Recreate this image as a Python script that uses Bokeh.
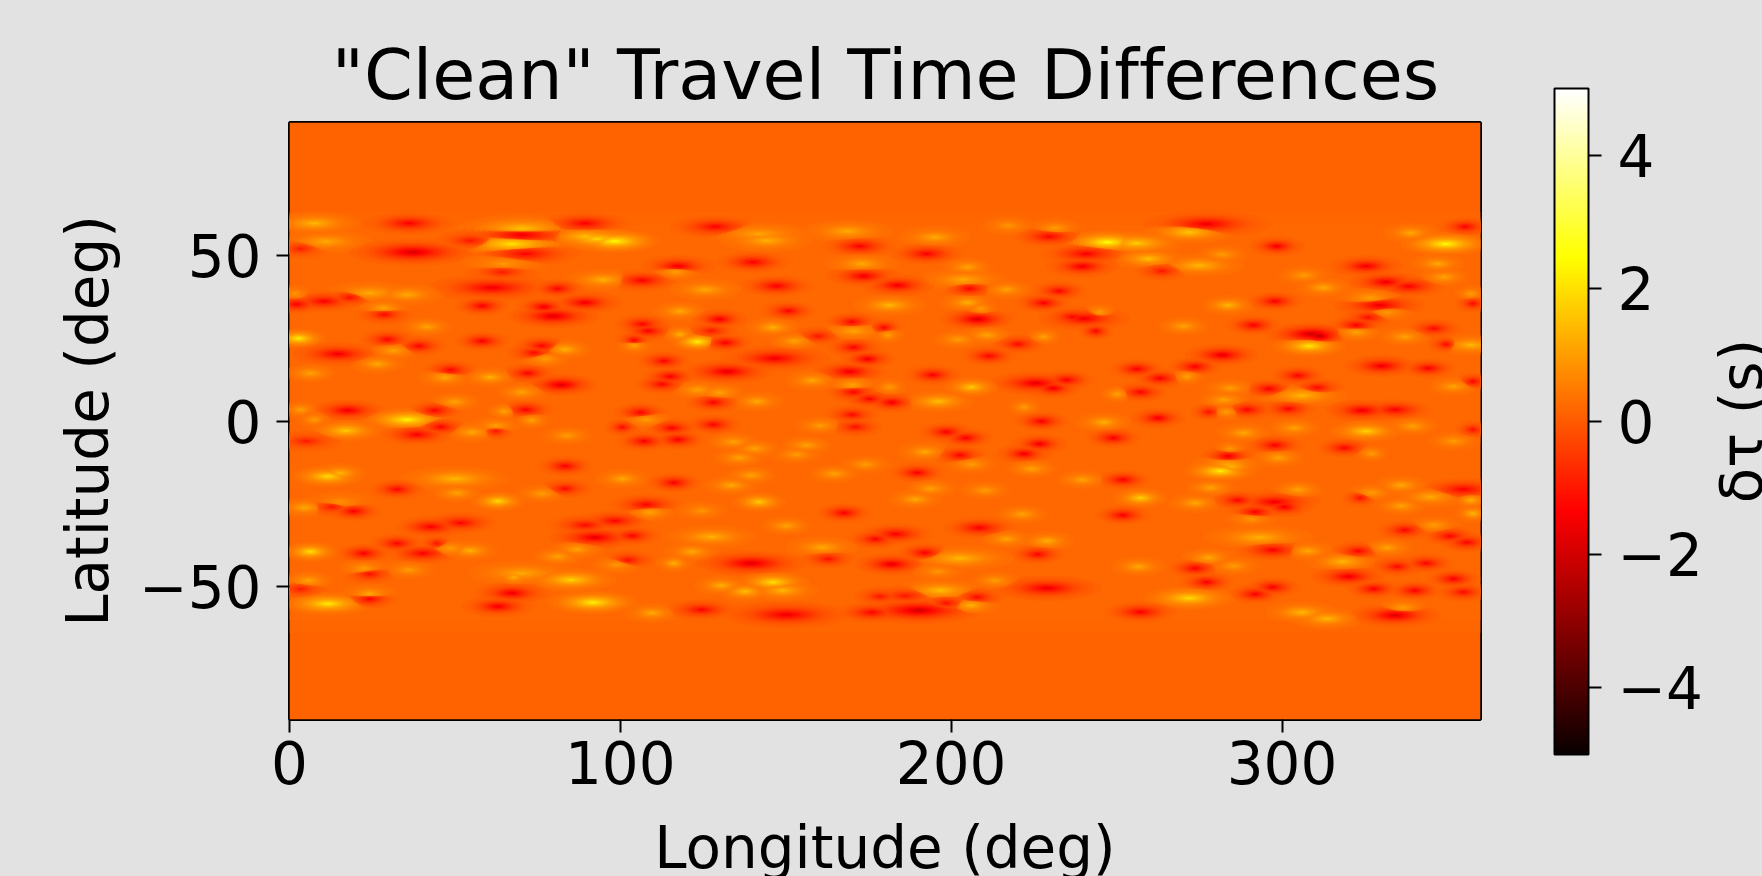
import numpy as np
from bokeh.plotting import figure
from bokeh.models import ColumnDataSource, LinearColorMapper, ColorBar, FixedTicker
from bokeh.embed import file_html
from bokeh.resources import INLINE

TITLE = '"Clean" Travel Time Differences'
X_LABEL = "Longitude (deg)"
Y_LABEL = "Latitude (deg)"
BAR_LABEL = "δτ (s)"
X_TICKS = [0, 100, 200, 300]
Y_TICKS = [-50, 0, 50]
Y_TICK_TEXT = {-50: "−50", 0: "0", 50: "50"}
BAR_TICKS = [-4, -2, 0, 2, 4]
BAR_TICK_TEXT = {-4: "−4", -2: "−2", 0: "0", 2: "2", 4: "4"}
VALUE_LOW, VALUE_HIGH = -5, 5
LON_RANGE = (0, 360)
LAT_RANGE = (-90, 90)

# quiet background, by latitude band (nested, outermost first)
band_top = [90, 63, 59]
band_bottom = [-90, -64, -60]
band_delta = [0.12, 0.17, 0.22]

# features: centre lon, centre lat, peak delta-tau, lon half-extent
nw_lon = [7.5,36.1,70.2,89.3,128.7,168.7,141.9,144.3,70.2,11,67.2,89.3,98.3,92.9,37.3,54.6,71.4,3.3,172.3,173,117.4,140.1,116.8,64.8,64.2,94.7,106.6,173.5,61.2,81,147.2,125.7,24.2,35.5,1.5,10.4,18.2,2.1,89.3,58.2,76.8,79.7,28.4,28.6,118,150.8,129.9,170,41.5,106.6,108.4,127.5,146.1,170.5,159.8,2.7,118,123.3,104.2,104.2,29.6,58.2,39.1,131.7,152.6,76.2,83.3,73.8,31.4,14.6,170.5,146.7,174.7,77.3,26.6,113.2,48.7,6.3,72,132.3,169.3,115,46.9,60.6,158,82.1,112.6,170,123.3,70.2,130,170.5,175.3,141.3,128.1,49.9,17.6,3.3,43.9,64.8,71.4,106,170,7.5,35.5,73.2,107.8,45.7,17,38.5,62.4,62.4,55.2,100.6,115.6,128.1,160.4,171.1,83.9,107.2,117.4,5.1,134.1,140.7,156.2,153.2,135.9,174.1,83.3]
nw_lat = [59.6,59.6,58.1,59.6,58.6,57.2,56.4,54.4,56.1,54.1,53.4,55.6,54.2,54.9,50.9,54.4,50.4,51.9,52.7,47.4,46.7,47.9,44.9,47.4,44.9,42.6,42.4,43.7,40.2,39.9,40.7,39.6,38.6,38.1,38.4,36.1,37.2,35.2,35.7,34.7,34.4,31.6,34.1,32.1,33.1,33.2,30.7,29.9,28.4,29.2,27.2,27.2,28.2,27.1,25.6,24.9,26.1,23.9,24.4,22.7,24.6,24.1,22.6,23.6,24.1,22.7,21.6,20.6,21.2,20.2,22.2,18.9,18.7,18.7,17.2,18.1,15.4,14.4,14.4,14.9,14.9,13.4,13.1,13.2,12.2,10.9,11.1,10.9,9.4,8.7,8.6,8.7,6.7,5.9,5.6,5.8,3.2,3.4,3.2,2.9,3.4,2.6,1.9,0.4,0.4,0.2,0.4,-1.8,-2.9,-4.1,-1.4,-3.1,-3.4,-1.9,-2.1,-1.1,-1.4,-1.8,-4.4,-6.1,-5.6,-6.1,-6.3,-8.3,-7.3,-10.1,-11.1,-13.1,-13.6]
nw_delta = [1.4,-1.4,1.5,-1.4,-1.3,1.2,1.1,1.3,-1.5,1.2,2,1.5,2.4,1.8,-1.9,-1,-1.3,-0.9,-1.4,1.2,-1.5,-1.4,1,0.9,-0.9,1.3,-1.4,-1.5,-1.5,-1.3,-1.4,1.2,1.2,1.2,0.9,-1.4,-1.1,-1.4,-1.5,-1.4,-1.5,-1.8,1.1,-1.2,1.2,-1.3,-1.5,-1.3,1.1,-1.3,-1.4,-1,1.3,1.1,-1,2.2,1.3,2.3,-1.3,1.1,-1.3,-1.4,-1.3,-1.4,1.1,-1.3,1.3,-1.2,1.1,-1.5,-1.3,-1.5,-1.5,1,1.2,-1.3,-1.3,1.1,-1.3,-1.7,-1.6,-1.4,1.2,1.3,1.2,-1.8,-1.3,1.1,1.1,1.1,1.1,-1.3,-1.3,1.2,-1.3,1.1,-1.6,1.1,-1.3,1.1,-1.4,-1.3,-1.2,1,2.3,1.1,1,-1.3,1.7,-1.4,1,-1,1.2,-1.2,-1.3,-1.3,1,-1.1,1,-1.4,-1.4,-0.9,1.1,1.1,1.1,1,1.1,1,-1.4]
nw_spread = [5,5,7,5,5,5,6,5,7,5,7,5,5,5,7,4,6,3,4,4,4,4,3,5,4,4,4,4,7,3,4,4,5,4,2,4,3,3,4,3,3,5,3,3,3,3,3,3,3,3,3,3,3,4,3,3,2,3,2,2,3,3,3,3,3,3,3,3,3,5,3,6,3,3,3,3,3,3,3,5,4,3,3,3,3,4,3,3,3,3,3,3,3,3,3,3,4,2,3,2,3,3,3,2,5,2,3,3,4,4,3,2,3,2,3,3,3,3,3,3,3,4,3,3,3,3,3,3,3]

sw_lon = [11.6,15.2,49.9,100.6,116.2,139.5,133.5,164.6,83.3,32.5,50.5,76.2,63,141.9,4.5,15.2,19.4,12.8,107.8,109,124.5,167.6,150.2,42.7,51.7,89.3,98.3,92.3,103.6,127.5,177.1,32.5,44.5,6.3,22.4,40.3,54.6,48.7,161,121.6,86.9,81,102.4,116.2,98.9,139.5,162.8,24.2,22.4,36.1,70.2,67.8,85.1,5.7,130.5,146.1,137.7,149,3.3,67.2,24.2,24.2,11.6,91.7,63,109.6,124.5,150.2,178.5,176]
sw_lat = [-16.7,-15.7,-17.4,-17.4,-18.6,-16.4,-19.4,-15.9,-20.4,-20.6,-21.7,-21.9,-24.2,-24.4,-26.1,-24.4,-27.2,-25.9,-25.2,-27.6,-27.1,-27.7,-31.6,-31.9,-30.7,-31.4,-30.1,-35.1,-34.6,-34.9,-35.6,-36.9,-36.9,-39.4,-39.9,-39.9,-39.1,-38.4,-38.1,-39.4,-38.7,-40.9,-41.9,-42.9,-43.4,-42.9,-41.6,-46.2,-44.4,-44.9,-45.9,-47.1,-47.9,-48.1,-49.6,-48.6,-51.4,-51.1,-50.7,-51.9,-52.1,-53.7,-55.1,-54.7,-55.9,-57.9,-56.9,-58.4,-52.9,-57.7]
sw_delta = [1.9,1.4,1.4,1.2,-1.4,1.1,1.2,1.1,-1.2,-1.3,1.1,1,1.9,1.7,1.2,0.8,-1.4,-1,-1.3,1.1,0.9,-1.4,1.1,-1.4,-1.3,-1.2,-1.3,-1.7,-1.3,1.3,-1.3,-1.3,-1,2,-1.4,-1.4,1.3,1,1.2,1.2,1.1,1.1,-1.1,1.3,0.9,-1.8,-1.1,-1.1,1,1,1.2,1.3,1.8,1.1,1.3,2,1.5,1.4,-0.9,-1.6,1.2,-1.3,2.1,2.2,-1.5,1.2,-1.3,-1.6,-1,-1.3]
sw_spread = [4,3,6,3,3,3,3,3,3,3,3,3,3,3,3,4,3,3,4,3,3,3,3,4,4,4,4,5,3,5,3,3,2,3,3,4,3,3,4,3,3,3,3,2,3,6,3,3,3,3,6,2,5,3,3,4,3,4,3,4,3,3,5,5,4,3,4,7,3,4]

ne_lon = [217.3,231.4,195,229.6,277.2,355.4,271.9,338.9,247.2,256,349.5,298.4,192.6,240.8,281.9,259.6,239.6,274.9,325.4,347.1,204.9,203.8,263.7,306.6,348.9,331.3,338.3,183.8,205.5,216.7,232.6,312.5,357.1,326.6,181.4,204.9,209,227.9,283.7,297.8,329.5,357.7,244.9,331.8,207.9,240.2,236.7,326,179.7,270.2,291.3,322.5,345.9,308.9,311.3,322.5,243.7,180.9,210.8,202,227.9,337.1,308.3,220.2,349.5,357.1,211.4,281.9,273.7,256.1,330.1,344.2,194.4,263.1,271.3,304.8,357.7,225.5,234.9,230.8,206.1,181.4,296,284.3,310.7,351.8,306,250.2,257.2,182,196.1,282.5,222,277.8,289.5,283.1,301.9,324.2,334.2,227.3,246.1,262.5,339.5,303.6,288.4,325.4,198.5,204.4,249,357.7,226.7,297.8,318.9,351.8,192,222,202.6,284.3,283.7,327.1,298.9,206.1,283.7]
ne_lat = [58.9,58.2,55.4,55.6,59.4,58.6,56.9,56.7,53.9,53.6,53.4,52.7,50.4,50.4,50.2,48.9,46.6,46.9,46.7,47.4,46.4,42.6,45.2,43.9,43.4,41.9,40.6,40.9,39.9,39.6,39.2,40.2,38.4,37.2,34.9,35.7,33.9,35.6,34.9,36.1,34.9,35.4,32.9,32.7,30.7,30.9,31.4,31.2,28.2,28.6,28.9,28.9,27.9,26.2,25.6,26.7,27.1,25.9,25.9,24.6,25.4,25.4,22.6,23.2,23.1,22.9,19.6,19.9,16.4,15.7,16.6,15.9,13.9,12.9,13.4,13.7,11.9,11.4,12.4,9.9,10.2,10.2,9.7,9.9,10.1,10.4,7.7,8.1,8.7,5.6,5.9,6.4,4.2,2.7,3.4,2.7,3.7,3.2,3.4,-0.1,-0.4,0.9,-1.6,-2.1,-3.6,-3.1,-3.3,-5.1,-5.1,-2.6,-6.9,-7.3,-8.1,-6.1,-9.3,-9.9,-10.3,-8.3,-10.6,-9.8,-11.1,-13.1,-13.1]
ne_delta = [0.9,1,1.2,-1.3,-1.5,-1.3,1.6,1.2,2.5,1.7,2.4,-1.5,-1.4,-1.4,1,1.5,-1.5,1.4,-1.5,1.2,1.1,1.2,-1,1,1.1,-1.6,-1.4,-1.5,-1.3,1.1,-1.3,1.2,1,1,1.4,1.3,1,-1.4,1.4,-1.4,-1.6,-1.2,1,0.9,-1.9,-1.5,-1.3,-1.1,-1.3,1.1,-1.4,-1.4,-1.2,-2.1,-2.3,1.1,-1.3,1,1.1,1,1.1,1.1,2.1,-1.2,-1.2,1.4,-1.3,-1.7,-1.4,-1.4,-1.6,-1.4,-1.4,-1.4,1.1,-1.3,-1.3,-1.7,-1.4,-1.5,1.7,1,-1.4,1,-1.2,1.1,1.4,1.1,-1.3,-1.5,1.5,1.1,1,-1.1,-1.3,1,-1.3,-1.6,-1.4,-1.4,1.3,-1.5,1.1,1.1,1.2,1.8,-1.4,-1.4,-1.4,-1.1,-1.5,-1.4,-1.3,1,1.2,-1.5,-1.3,0.9,-1.5,1,1.1,1,1.2]
ne_spread = [3,3,4,4,7,3,5,3,5,5,5,3,4,5,3,4,4,5,4,3,3,5,3,3,3,4,4,4,3,3,3,3,2,4,4,3,2,3,3,3,5,2,2,3,4,5,3,3,2,3,3,3,3,5,3,3,2,2,3,3,2,3,4,3,2,4,3,4,3,3,4,3,3,3,2,3,2,5,3,3,3,2,3,3,3,3,5,2,3,3,4,3,2,2,3,2,3,4,4,3,3,3,3,3,3,4,3,3,3,2,3,3,3,3,3,3,3,2,3,2,3,3,4]

se_lon = [281.3,284.8,189.7,224.3,239.6,251.9,193.8,210.2,278.4,304.8,354.8,336,327.1,344.8,189.1,257.2,273.7,286.6,297.8,300.7,291.9,323.6,357.1,336,357.7,251.9,221.4,290.7,346,208.5,337.1,350.7,355.9,183.2,216.7,229,293.1,192,226.1,297.2,307.8,323,331.8,202.6,277.8,318.3,182,256.6,273.7,285.4,343.6,334.8,196.1,213.2,277.2,320.1,351.8,196.7,229,327.7,340.1,354.8,297.2,291.9,271.9,186.1,207.9,336.5,206.1,190.2,198.5,257.2,306,313.6,334.2]
se_lat = [-15.1,-13.7,-15.6,-14.4,-17.7,-17.7,-20.4,-20.9,-20.1,-20.7,-20.6,-19.4,-21.6,-22.9,-23.6,-23.2,-24.7,-23.9,-24.4,-25.9,-27.4,-23.2,-23.9,-25.6,-27.9,-28.4,-28.1,-29.6,-31.4,-32.2,-32.9,-34.7,-36.6,-34.1,-35.6,-36.2,-35.1,-39.7,-40.2,-38.9,-39.2,-39.2,-38.2,-41.4,-41.2,-42.4,-43.2,-43.9,-44.4,-43.7,-42.9,-43.9,-45.4,-48.1,-48.6,-46.9,-47.6,-51.1,-50.4,-50.6,-51.1,-51.6,-50.1,-52.2,-53.4,-52.7,-53.1,-56.2,-55.6,-57.1,-54.9,-57.6,-57.7,-59.6,-58.6]
se_delta = [2.2,1.4,-1.4,1.1,1.1,-1.4,1.1,1,1.1,1.1,-1.4,1.2,1,1.2,1.2,1.8,1.2,-1.3,-1.5,-1.5,-1.4,-1.1,1.3,1.1,1.4,-1.4,1.1,0.9,1,-1.4,-1.3,-1.3,-1.3,-1.4,1.1,1.3,1.3,-1.4,-1.3,-1.4,1.2,-1.3,1.1,1.4,1.2,1.4,-1.7,1.2,-1.4,1,-1.3,-1.2,0.9,1,-1.4,-1.6,-1.4,1.5,-1.6,-1.4,-1.4,-1.2,-1.4,-1.4,1.9,-1,-1.2,1,1.3,-2,-1.1,-1.4,1.4,1.4,-1.8]
se_spread = [4,3,3,3,3,3,3,3,3,3,5,3,3,4,3,3,3,3,5,3,3,2,2,3,2,3,3,3,3,4,3,3,3,4,3,3,6,3,3,4,3,3,3,6,3,4,4,3,3,3,3,3,3,3,3,4,3,5,6,3,3,3,3,3,5,4,3,3,3,7,3,4,4,4,5]

lon = np.array(nw_lon + sw_lon + ne_lon + se_lon, float)
lat = np.array(nw_lat + sw_lat + ne_lat + se_lat, float)
delta = np.array(nw_delta + sw_delta + ne_delta + se_delta, float)
spread = np.array(nw_spread + sw_spread + ne_spread + se_spread, float)
assert len(lon) == len(lat) == len(delta) == len(spread)

t = np.linspace(0, 1, 256)
r = np.interp(t, [0, .365, 1], [.0416, 1, 1])
g = np.interp(t, [0, .365, .746, 1], [0, 0, 1, 1])
b = np.interp(t, [0, .746, 1], [0, 0, 1])
hot = ["#%02x%02x%02x" % (int(a*255), int(c*255), int(d*255)) for a, c, d in zip(r, g, b)]
mapper = LinearColorMapper(palette=hot, low=VALUE_LOW, high=VALUE_HIGH)

BG = "#e2e2e2"
FONT = "DejaVu Sans"
p = figure(width=1762, height=876, frame_width=1191, frame_height=597, x_range=LON_RANGE, y_range=LAT_RANGE,
           output_backend="svg", toolbar_location=None,
           min_border_left=289, min_border_right=282, min_border_top=122, min_border_bottom=157,
           border_fill_color=BG, outline_line_color="black", outline_line_width=3)
p.grid.visible = False

band_src = ColumnDataSource(dict(top=band_top, bottom=band_bottom, c=band_delta,
                                 left=[LON_RANGE[0]] * 3, right=[LON_RANGE[1]] * 3))
p.quad(left="left", right="right", top="top", bottom="bottom", source=band_src, line_color=None,
       fill_color={"field": "c", "transform": mapper})

# each feature is drawn as nested contours, outermost level of all features first
levels = [.06, .1, .15, .2, .26, .33, .4, .48, .56, .64, .72, .8, .88, .95, 1.0]
theta = np.linspace(0, 2 * np.pi, 22, endpoint=False)
xs, ys, cs = [], [], []
quiet = band_delta[2]
for f in levels:
    scale = (np.log(1 / f) / np.log(4)) ** 0.7 if f < 1 else 0.14
    for x0, y0, d0, s0 in zip(lon, lat, delta, spread):
        xs.append(x0 + 1.7 * s0 * scale * np.cos(theta))
        ys.append(y0 + (1.4 + 0.16 * s0) * scale * np.sin(theta))
        cs.append(quiet + f * (d0 - quiet))
src = ColumnDataSource(dict(xs=xs, ys=ys, c=cs))
p.patches(xs="xs", ys="ys", source=src, line_color=None, fill_alpha=0.65,
          fill_color={"field": "c", "transform": mapper})

for ax in (p.xaxis[0], p.yaxis[0]):
    ax.major_label_text_font = FONT
    ax.major_label_text_font_size = "58px"
    ax.major_label_text_color = "black"
    ax.axis_label_text_font = FONT
    ax.axis_label_text_font_size = "58px"
    ax.axis_label_text_font_style = "normal"
    ax.axis_label_text_color = "black"
    ax.major_tick_out = 13
    ax.major_tick_in = 0
    ax.minor_tick_line_color = None
    ax.major_tick_line_width = 2
    ax.major_tick_line_color = "black"
    ax.axis_line_color = None
p.xaxis[0].major_label_standoff = 8
p.xaxis[0].axis_label_standoff = 27
p.yaxis[0].major_label_standoff = 15
p.yaxis[0].axis_label_standoff = 14
p.xaxis[0].ticker = FixedTicker(ticks=X_TICKS)
p.yaxis[0].ticker = FixedTicker(ticks=Y_TICKS)
p.yaxis[0].major_label_overrides = Y_TICK_TEXT
p.xaxis[0].axis_label = X_LABEL
p.yaxis[0].axis_label = Y_LABEL

p.title.text = TITLE
p.title.text_font = FONT
p.title.text_font_size = "70px"
p.title.text_font_style = "normal"
p.title.text_color = "black"
p.title.align = "center"
p.title.standoff = 14

bar = ColorBar(color_mapper=mapper, width=34, height=666, location=(1265, -35), padding=0, margin=0,
               ticker=FixedTicker(ticks=BAR_TICKS), major_label_overrides=BAR_TICK_TEXT,
               major_label_text_font=FONT, major_label_text_font_size="58px", major_label_text_color="black",
               major_tick_in=0, major_tick_out=13, major_tick_line_color="black", major_tick_line_width=2,
               minor_tick_line_color=None, bar_line_color="black", bar_line_width=2, label_standoff=16,
               background_fill_color=None, border_line_color=None)
p.add_layout(bar, "center")

html = file_html(p, INLINE)
page_css = ("html,body{margin:0;padding:0;background:%s;overflow:hidden;font-variant-ligatures:none}"
            "#bar-label{position:absolute;left:1742px;top:421px;z-index:10;white-space:nowrap;color:black;"
            "font:58px '%s';transform:translate(-50%%,-50%%) rotate(-90deg)}" % (BG, FONT))
html = html.replace("<head>", "<head><style>%s</style>" % page_css, 1)
html = html.replace("</body>", '<div id="bar-label">%s</div></body>' % BAR_LABEL, 1)
open("out.html", "w").write(html)
